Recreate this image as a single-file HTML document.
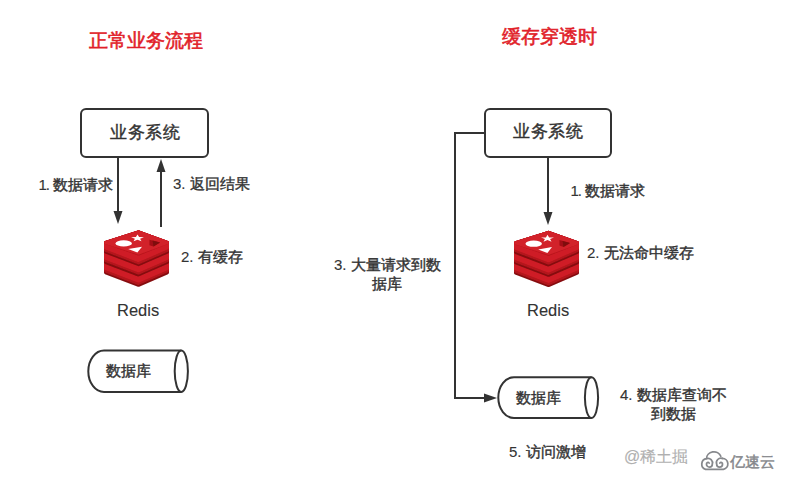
<!DOCTYPE html>
<html><head><meta charset="utf-8">
<style>
html,body{margin:0;padding:0;background:#fff;}
body{width:787px;height:482px;position:relative;overflow:hidden;font-family:"Liberation Sans",sans-serif;color:#333;}
.t{position:absolute;white-space:nowrap;line-height:1;}
.title{color:#e11f2a;font-weight:normal;font-size:18.6px;}
.box{font-size:17.3px;letter-spacing:0.6px;}
.lbl{font-size:15px;}
.t{-webkit-text-stroke:0.4px #333;}
.n{-webkit-text-stroke:0.12px #333;}
.title{-webkit-text-stroke:0.6px #e11f2a;}
.wm{font-size:16px;color:#b0b0b0;-webkit-text-stroke:0.15px #b0b0b0;}
.wm2{font-size:15px;color:#85878b;-webkit-text-stroke:0.45px #85878b;}
.redis{font-size:16.5px;-webkit-text-stroke:0.1px #333 !important;}
svg{position:absolute;left:0;top:0;}
</style></head><body>
<svg width="787" height="482" viewBox="0 0 787 482">
<defs>
<g id="redis">
<filter id="bl" x="-10%" y="-10%" width="120%" height="120%"><feGaussianBlur stdDeviation="0.5"/></filter>
<g filter="url(#bl)">
<path d="M34.5 22.80 L63.3 33.10 L63.3 42.60 L34.5 55.10 L1.7 42.60 L1.7 33.10 Z" fill="#850a10" stroke="#850a10" stroke-width="3.4" stroke-linejoin="round"/>
<path d="M34.5 22.80 L63.3 33.10 L63.3 40.80 L34.5 53.30 L1.7 40.80 L1.7 33.10 Z" fill="#b3141c" stroke="#b3141c" stroke-width="3.4" stroke-linejoin="round"/>
<path d="M34.5 22.80 L63.3 33.10 L63.3 38.40 L34.5 50.90 L1.7 38.40 L1.7 33.10 Z" fill="#cf1d26" stroke="#cf1d26" stroke-width="3.4" stroke-linejoin="round"/>
<path d="M34.5 12.50 L63.3 22.80 L63.3 32.30 L34.5 44.80 L1.7 32.30 L1.7 22.80 Z" fill="#850a10" stroke="#850a10" stroke-width="3.4" stroke-linejoin="round"/>
<path d="M34.5 12.50 L63.3 22.80 L63.3 30.50 L34.5 43.00 L1.7 30.50 L1.7 22.80 Z" fill="#b3141c" stroke="#b3141c" stroke-width="3.4" stroke-linejoin="round"/>
<path d="M34.5 12.50 L63.3 22.80 L63.3 28.10 L34.5 40.60 L1.7 28.10 L1.7 22.80 Z" fill="#cf1d26" stroke="#cf1d26" stroke-width="3.4" stroke-linejoin="round"/>
<path d="M34.5 2.20 L63.3 12.50 L63.3 22.00 L34.5 34.50 L1.7 22.00 L1.7 12.50 Z" fill="#850a10" stroke="#850a10" stroke-width="3.4" stroke-linejoin="round"/>
<path d="M34.5 2.20 L63.3 12.50 L63.3 20.20 L34.5 32.70 L1.7 20.20 L1.7 12.50 Z" fill="#b3141c" stroke="#b3141c" stroke-width="3.4" stroke-linejoin="round"/>
<path d="M34.5 2.20 L63.3 12.50 L63.3 17.80 L34.5 30.30 L1.7 17.80 L1.7 12.50 Z" fill="#cf1d26" stroke="#cf1d26" stroke-width="3.4" stroke-linejoin="round"/>
<path d="M34.5 2.2 L63.3 12.5 L34.5 23.900000000000002 L1.7 12.5 Z" fill="#b8161d" stroke="#b8161d" stroke-width="3.4" stroke-linejoin="round"/>
<path d="M34.5 2.2 L63.3 12.5 L34.5 22.900000000000002 L1.7 12.5 Z" fill="#d2212a" stroke="#d2212a" stroke-width="3.4" stroke-linejoin="round"/>
<ellipse cx="19.7" cy="13.4" rx="8.2" ry="3.1" fill="#fff"/>
<polygon points="33.50,4.56 35.09,7.10 39.97,7.14 36.07,8.76 37.50,11.33 33.50,9.79 29.50,11.33 30.93,8.76 27.03,7.14 31.91,7.10" fill="#fff"/>
<polygon points="24.2,19.1 38,16.8 33.4,22.6" fill="#fff"/>
<polygon points="45.5,9.8 56,12.6 49.5,16.6 45.5,15.2" fill="#a30d14"/>
<polygon points="48.5,10.6 56,12.6 49.5,16.6" fill="#7f080d"/>
</g>
</g></defs>
<use href="#redis" transform="translate(104,230)"/>
<use href="#redis" transform="translate(514,230.3)"/>
<g fill="none" stroke="#86888c" stroke-width="1.75" stroke-linecap="round" stroke-linejoin="round">
<path d="M720.8,456.3 A7.3,6.6 0 0 0 706.6,458.6 A5.5,5.5 0 0 0 705.6,469.3 L723.4,469.3 A5.5,5.5 0 0 0 722.4,458.4"/>
<path d="M706.6,458.6 A4.5,4.5 0 0 1 712.3,464.2 A2.9,2.9 0 0 1 706.5,464.2 A1.5,1.5 0 0 1 709.1,463"/>
<path d="M722.4,458.4 A4.5,4.5 0 0 0 716.7,464.2 A2.9,2.9 0 0 0 722.5,464.2 A1.5,1.5 0 0 0 719.9,463"/>
</g>
  <g fill="none" stroke="#333" stroke-width="2">
    <!-- left box -->
    <rect x="81" y="109" width="127" height="48" rx="5"/>
    <!-- left down arrow -->
    <line x1="118" y1="158" x2="118" y2="212"/>
    <!-- left up arrow -->
    <line x1="161" y1="170" x2="161" y2="227"/>
    <!-- left db -->
    <path d="M181.3 350.5 L104 350.5 A15.7 20.75 0 0 0 104 392 L181.3 392"/>
    <ellipse cx="181.3" cy="371.25" rx="6.6" ry="20.75"/>
    <!-- right box -->
    <rect x="485" y="109" width="126" height="48" rx="5"/>
    <line x1="548" y1="158" x2="548" y2="213"/>
    <polyline points="485,133 455,133 455,398 485,398"/>
    <!-- right db -->
    <path d="M591.5 377.2 L514 377.2 A15.7 20.4 0 0 0 514 418 L591.5 418"/>
    <ellipse cx="591.5" cy="397.6" rx="6.6" ry="20.4"/>
  </g>
  <g fill="#333">
    <polygon points="113.5,211 122.5,211 118,224"/>
    <polygon points="156.5,172 165.5,172 161,159"/>
    <polygon points="543.5,212 552.5,212 548,225"/>
    <polygon points="484,393.5 484,402.5 497,398"/>
  </g>
</svg>
<div class="t title" style="left:88.5px;top:31.5px">正常业务流程</div>
<div class="t title" style="left:501.5px;top:27.5px">缓存穿透时</div>
<div class="t box" style="left:110px;top:123.5px">业务系统</div>
<div class="t box" style="left:513px;top:123.3px">业务系统</div>
<div class="t lbl" style="left:38.5px;top:177px"><span class="n" style="letter-spacing:-1.2px">1.</span> 数据请求</div>
<div class="t lbl" style="left:173px;top:176px"><span class="n">3. </span>返回结果</div>
<div class="t lbl" style="left:181px;top:249px"><span class="n">2. </span>有缓存</div>
<div class="t redis" style="left:117px;top:302px">Redis</div>
<div class="t lbl" style="left:106px;top:363px">数据库</div>
<div class="t lbl" style="left:570.5px;top:183px"><span class="n" style="letter-spacing:-1.2px">1.</span> 数据请求</div>
<div class="t lbl" style="left:587px;top:245px"><span class="n">2. </span>无法命中缓存</div>
<div class="t redis" style="left:527px;top:302px">Redis</div>
<div class="t lbl" style="left:334px;top:256px;text-align:center;line-height:18.7px"><span class="n">3. </span>大量请求到数<br>据库</div>
<div class="t lbl" style="left:516px;top:390px">数据库</div>
<div class="t lbl" style="left:620px;top:385px;text-align:center;line-height:19px"><span class="n">4. </span>数据库查询不<br>到数据</div>
<div class="t lbl" style="left:509px;top:443.5px"><span class="n">5. </span>访问激增</div>
<div class="t wm" style="left:624px;top:449px">@稀土掘</div>
<div class="t wm2" style="left:730px;top:453.5px">亿速云</div>
</body></html>
